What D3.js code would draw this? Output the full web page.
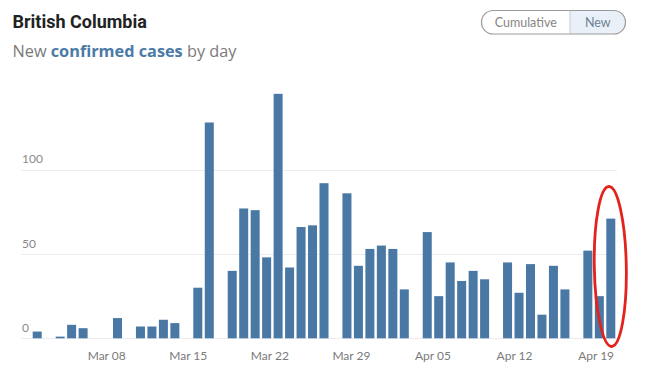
<!DOCTYPE html>
<html>
<head>
<meta charset="utf-8">
<script src="https://cdn.jsdelivr.net/npm/d3@7"></script>
<style>
  html, body { margin: 0; padding: 0; background: #fff; }
  svg { display: block; font-family: Lato, "Open Sans", sans-serif; }
</style>
</head>
<body>
<svg id="chart" width="650" height="373"></svg>
<script>
// ---- data ----
const startDate = "2020-03-02";
const newCases = [4,0,1,8,6,0,0, 12,0,7,7,11,9,0, 30,128,0,40,77,76,48, 145,42,66,67,92,0,86,
                  43,53,55,53,29,0,63, 25,45,34,40,35,0,45, 27,44,14,43,29,0,52, 25,71];
const yTicks = [0, 50, 100];
const xTickDates = ["2020-03-08","2020-03-15","2020-03-22","2020-03-29","2020-04-05","2020-04-12","2020-04-19"];
const titleText = "British Columbia";
const subtitleParts = [["New ", false], ["confirmed cases", true], [" by day", false]];
const toggleLabels = ["Cumulative", "New"];

// ---- setup ----
const parse = d3.utcParse("%Y-%m-%d");
const fmt = d3.utcFormat("%b %d");
const d0 = parse(startDate);
const dates = newCases.map((_, i) => d3.utcDay.offset(d0, i));
const data = dates.map((d, i) => ({date: d, value: newCases[i]}));

const svg = d3.select("#chart");
const barLeft = 32.7, barRight = 615.3;

const x = d3.scaleBand()
  .domain(dates.map(d => +d))
  .range([barLeft, barRight])
  .paddingInner(0.215)
  .paddingOuter(0);

const xt = d3.scaleUtc()
  .domain([d0, d3.utcDay.offset(d0, newCases.length - 1)])
  .range([barLeft + 4.1, barRight + 4.1]);

const y = d3.scaleLinear().domain([0, 100]).range([338.3, 169.7]);

// title
svg.append("text")
  .attr("x", 12.5).attr("y", 28.3)
  .attr("font-family", "Roboto, Lato, sans-serif")
  .attr("font-size", 18).attr("font-weight", 700).attr("fill", "#222")
  .text(titleText);

const sub = svg.append("text")
  .attr("x", 12.5).attr("y", 56.7)
  .attr("font-family", "'Open Sans', Lato, sans-serif")
  .attr("font-size", 16.3).attr("fill", "#7a7a7a");
subtitleParts.forEach(([t, b]) => {
  sub.append("tspan")
    .attr("font-weight", b ? 700 : 400)
    .attr("fill", b ? "#4a7aa6" : "#7a7a7a")
    .text(t);
});

// toggle
const tg = svg.append("g");
const tx0 = 481.5, tx1 = 625.5, ty0 = 10.5, ty1 = 34, tdiv = 570;
tg.append("path")
  .attr("d", `M${tdiv},${ty0} H${tx1-11.75} A11.75,11.75 0 0 1 ${tx1-11.75},${ty1} H${tdiv} Z`)
  .attr("fill", "#e9f0f7");
tg.append("rect")
  .attr("x", tx0).attr("y", ty0).attr("width", tx1 - tx0).attr("height", ty1 - ty0)
  .attr("rx", 11.75).attr("ry", 11.75)
  .attr("fill", "none").attr("stroke", "#9a9a9a").attr("stroke-width", 1.2);
tg.append("line")
  .attr("x1", tdiv).attr("x2", tdiv).attr("y1", ty0).attr("y2", ty1)
  .attr("stroke", "#c4ccd4").attr("stroke-width", 1);
tg.append("text")
  .attr("x", (tx0 + tdiv) / 2).attr("y", 26.5).attr("text-anchor", "middle")
  .attr("font-size", 12.5).attr("fill", "#858585").text(toggleLabels[0]);
tg.append("text")
  .attr("x", (tdiv + tx1) / 2).attr("y", 26.5).attr("text-anchor", "middle")
  .attr("font-size", 12.5).attr("fill", "#6b8296").text(toggleLabels[1]);

// grid
const grid = svg.append("g");
grid.selectAll("line").data(yTicks).join("line")
  .attr("x1", 21).attr("x2", 617)
  .attr("y1", d => Math.round(y(d)) + 0.5).attr("y2", d => Math.round(y(d)) + 0.5)
  .attr("stroke", "#ececec").attr("stroke-width", 1);
grid.selectAll("text").data(yTicks).join("text")
  .attr("x", 22).attr("y", d => y(d) - 6.5)
  .attr("font-size", 12).attr("fill", "#8a8a8a")
  .text(d => d);

// bars
svg.append("g").selectAll("rect").data(data.filter(d => d.value > 0)).join("rect")
  .attr("x", d => x(+d.date))
  .attr("width", x.bandwidth())
  .attr("y", d => y(d.value))
  .attr("height", d => y(0) - y(d.value))
  .attr("fill", "#4a78a4");

// x axis labels
svg.append("g").selectAll("text").data(xTickDates.map(parse)).join("text")
  .attr("x", d => xt(d)).attr("y", 360)
  .attr("text-anchor", "middle")
  .attr("font-size", 12).attr("fill", "#7a7a7a")
  .text(d => fmt(d));

// red annotation ellipse around the last bars
const last = dates[dates.length - 1];
const cx = x(+last) + x.bandwidth() / 2 - 0.5;
svg.append("ellipse")
  .attr("cx", cx).attr("cy", 266.5)
  .attr("rx", 16).attr("ry", 80)
  .attr("transform", `rotate(-1 ${cx} 266.5)`)
  .attr("fill", "none").attr("stroke", "#e3221b").attr("stroke-width", 2.8);
</script>
</body>
</html>
